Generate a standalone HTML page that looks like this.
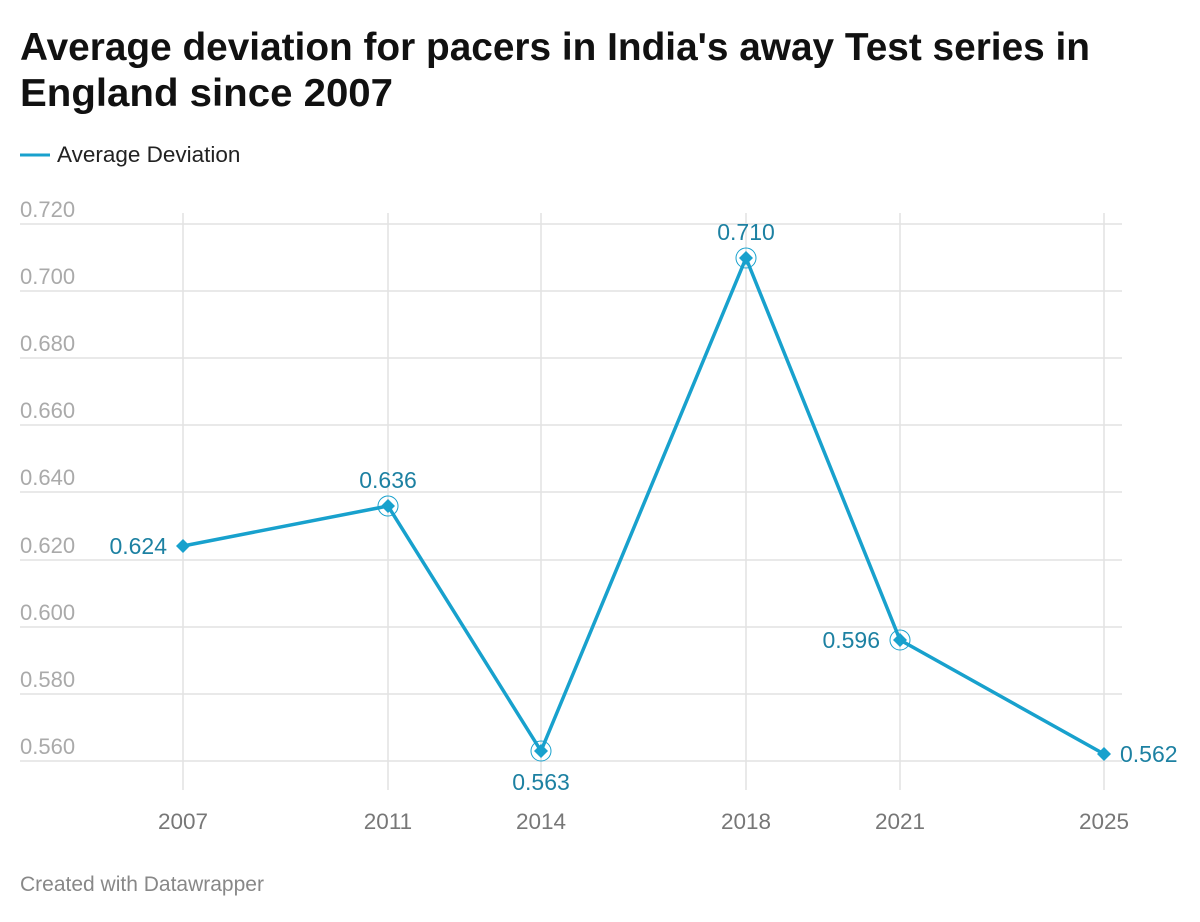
<!DOCTYPE html>
<html><head><meta charset="utf-8"><style>
body{margin:0;background:#fff;width:1200px;height:917px;overflow:hidden;font-family:"Liberation Sans",Arial,sans-serif}
</style></head><body>
<svg width="1200" height="917" xmlns="http://www.w3.org/2000/svg" font-family="Liberation Sans, Arial, sans-serif">
<text x="20" y="60" font-size="38.5" font-weight="bold" fill="#111" textLength="1070" lengthAdjust="spacingAndGlyphs">Average deviation for pacers in India's away Test series in</text>
<text x="20" y="106" font-size="38.5" font-weight="bold" fill="#111" textLength="373" lengthAdjust="spacingAndGlyphs">England since 2007</text>
<line x1="20" y1="155" x2="50" y2="155" stroke="#18a1cd" stroke-width="3"/>
<text x="57" y="162" font-size="22.5" fill="#222">Average Deviation</text>
<g stroke="#e2e2e2" stroke-width="1.5">
<line x1="183" y1="213" x2="183" y2="790"/><line x1="388" y1="213" x2="388" y2="790"/>
<line x1="541" y1="213" x2="541" y2="790"/><line x1="746" y1="213" x2="746" y2="790"/>
<line x1="900" y1="213" x2="900" y2="790"/><line x1="1104" y1="213" x2="1104" y2="790"/>
<line x1="20" y1="224" x2="1122" y2="224"/><line x1="20" y1="291" x2="1122" y2="291"/>
<line x1="20" y1="358" x2="1122" y2="358"/><line x1="20" y1="425" x2="1122" y2="425"/>
<line x1="20" y1="492" x2="1122" y2="492"/><line x1="20" y1="560" x2="1122" y2="560"/>
<line x1="20" y1="627" x2="1122" y2="627"/><line x1="20" y1="694" x2="1122" y2="694"/>
<line x1="20" y1="761" x2="1122" y2="761"/>
</g>
<g font-size="22" fill="#aaa">
<text x="20" y="217">0.720</text><text x="20" y="284">0.700</text><text x="20" y="351">0.680</text>
<text x="20" y="418">0.660</text><text x="20" y="485">0.640</text><text x="20" y="553">0.620</text>
<text x="20" y="620">0.600</text><text x="20" y="687">0.580</text><text x="20" y="754">0.560</text>
</g>
<g font-size="22.5" fill="#777" text-anchor="middle">
<text x="183" y="829">2007</text><text x="388" y="829">2011</text><text x="541" y="829">2014</text>
<text x="746" y="829">2018</text><text x="900" y="829">2021</text><text x="1104" y="829">2025</text>
</g>
<polyline points="183,546 388,506 541,751 746,258 900,640 1104,754" fill="none" stroke="#18a1cd" stroke-width="3.5" stroke-linejoin="round"/>
<g fill="#18a1cd">
<path d="M183,539 l7,7 -7,7 -7,-7z"/><path d="M388,499 l7,7 -7,7 -7,-7z"/>
<path d="M541,744 l7,7 -7,7 -7,-7z"/><path d="M746,251 l7,7 -7,7 -7,-7z"/>
<path d="M900,633 l7,7 -7,7 -7,-7z"/><path d="M1104,747 l7,7 -7,7 -7,-7z"/>
</g>
<g fill="none" stroke="#18a1cd" stroke-width="1">
<circle cx="388" cy="506" r="10"/><circle cx="541" cy="751" r="10"/>
<circle cx="746" cy="258" r="10"/><circle cx="900" cy="640" r="10"/>
</g>
<g font-size="23" fill="#1d81a2">
<text x="167" y="554" text-anchor="end">0.624</text>
<text x="388" y="488" text-anchor="middle">0.636</text>
<text x="541" y="790" text-anchor="middle">0.563</text>
<text x="746" y="240" text-anchor="middle">0.710</text>
<text x="880" y="648" text-anchor="end">0.596</text>
<text x="1120" y="762">0.562</text>
</g>
<text x="20" y="891" font-size="21" fill="#888">Created with Datawrapper</text>
</svg>
</body></html>
